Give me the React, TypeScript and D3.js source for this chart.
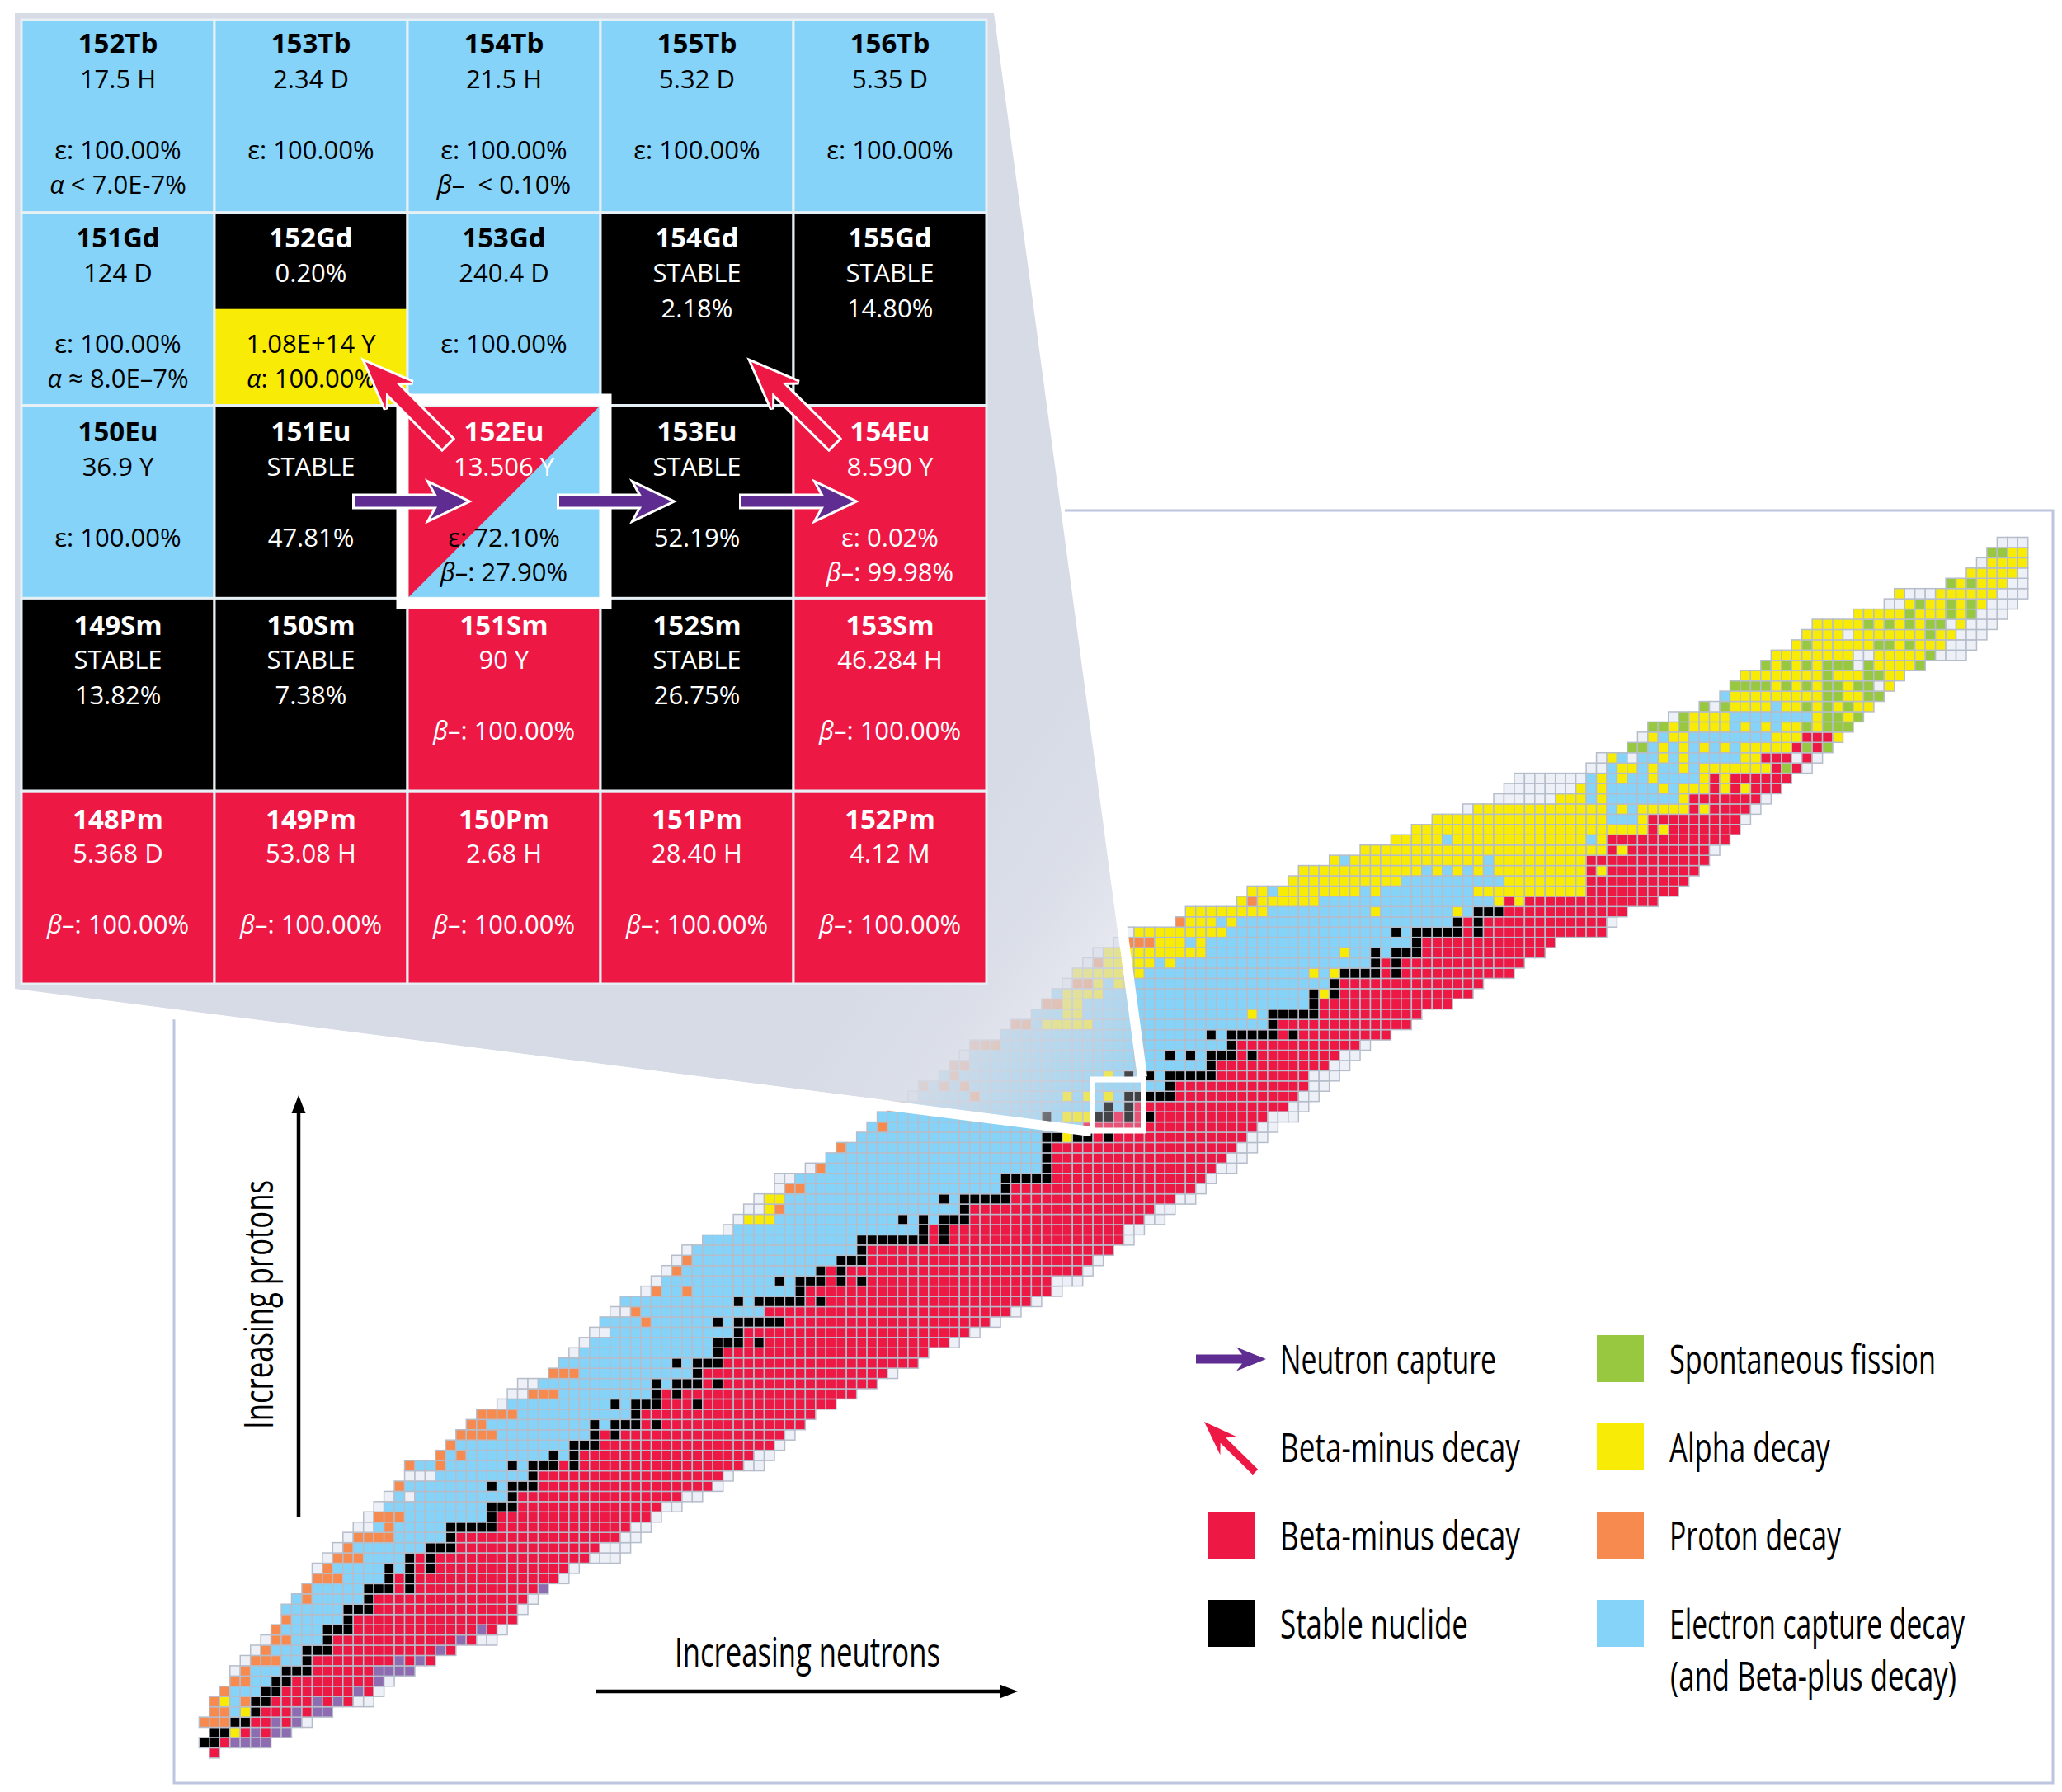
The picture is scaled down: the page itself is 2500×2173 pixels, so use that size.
import React from "react";
import * as d3 from "d3";

// Decay-mode palette
const MODE_COLORS: Record<string, string> = {
  r: "#ee1845", // beta-minus
  k: "#000000", // stable
  b: "#85d3f8", // electron capture
  y: "#f8ec06", // alpha
  o: "#f68a4f", // proton
  g: "#97c840", // fission
  p: "#8d6cb1", // neutron emission
  e: "#edf0f6", // unknown
};

// One entry per proton count: "firstNeutronCount:runs"
const chartRows: string[] = [
  "1:r1",
  "0:k2 r1 p4",
  "1:k2 y1 r1 p1 r1 p2",
  "0:o3 k2 r2 p1 r1 p1 e1",
  "1:o2 b1 y1 k1 r3 p1 r1 p2",
  "1:o1 y1 b1 o1 k2 r4 p1 r1 p1 r1 e2",
  "2:o1 b3 k2 r7 p1 r1 e1",
  "3:o2 b2 k2 r8 p1 e1",
  "3:e1 o1 b3 k3 r6 p4",
  "4:e1 o3 b2 k1 r8 p1 r1 p1 r1",
  "5:e1 o1 b3 k3 r10 p1 r1",
  "6:e1 o2 b3 k1 r12 p1 r1 e2",
  "7:o1 b4 k3 r12 p1 r1 e1",
  "8:o1 b5 k1 r16",
  "8:b6 k3 r14 e1",
  "9:b1 o1 b5 k1 r15 e1",
  "10:o1 b5 k3 r1 k1 r12 p1",
  "11:o3 b4 k1 r1 k1 r14 e1",
  "11:e1 o1 b5 k1 b1 k1 r1 k1 r13 e1",
  "12:e1 o3 b4 k1 r1 k1 r15 e3",
  "13:e1 o1 b7 k3 r14 e3",
  "14:e1 o4 b5 k1 r16 e2",
  "15:e2 b1 o1 b5 k5 r13 e2",
  "16:e1 o3 b8 k1 r15 e1",
  "17:e1 b10 k3 r14 e2",
  "18:e1 b1 e1 b9 k1 r16 e2",
  "19:o1 b8 k1 b1 k3 r17 e1",
  "20:e3 b9 k1 r18 e1",
  "20:o1 b2 o1 b6 k1 b1 k3 r1 k1 r16 e2",
  "23:o1 b1 o1 b8 k1 b1 k1 r17 e2",
  "24:o1 b11 k3 r17 e1",
  "25:o4 b9 k1 r1 k1 r16 e1",
  "26:o2 b10 k1 b1 k3 r1 k1 r14",
  "27:o4 b11 k1 r17",
  "29:e1 b10 k1 b1 k3 r3 k1 r13",
  "30:e2 o3 b9 k1 r1 k1 r17",
  "31:e2 b11 k1 b1 k3 r1 k1 r15",
  "34:o3 b11 k1 r18 e1",
  "35:b11 k1 b1 k3 r19",
  "36:e1 b13 k1 r20",
  "37:e1 b12 k3 r1 k1 r18 e1",
  "38:e2 b12 k1 r22 e1",
  "39:b4 o1 b6 k1 b1 k5 r20 e1",
  "40:e2 o1 b12 r24 e1",
  "41:b11 k1 b1 k5 r1 k1 r20 e1",
  "43:e1 o1 b2 o1 b10 k1 r24 e1",
  "44:e1 b11 k1 b1 k3 r1 k1 r1 k1 r18 e3",
  "45:e1 o1 b13 k1 r1 k1 r23 e1",
  "46:e1 o1 b14 k3 r22 e1",
  "47:e1 b16 k1 r24",
  "49:b15 k7 r1 k1 r17 e1",
  "51:e1 b18 k1 r1 k1 r17 e2",
  "52:e1 y3 b12 k1 b1 k1 b1 k3 r17 e2",
  "53:e2 y1 o1 b17 k1 r18 e2",
  "54:e1 y2 b15 k1 b1 k5 r16 e2",
  "56:e1 o2 b19 k1 r18 e1",
  "56:e2 b20 k5 r15 e1",
  "59:e1 o1 b21 k1 r16 e2",
  "61:b21 k1 r17 e2",
  "62:o1 b19 k1 r18 e2",
  "64:b18 k2 y1 k2 r1 k1 r13 e2",
  "65:b1 o1 b19 r17 e2",
  "66:b16 k1 b1 y3 k2 r1 k1 r1 k1 r11 e3",
  "67:o2 b19 k1 b1 k1 r15 e2",
  "69:e1 b5 o1 b8 y1 b1 y1 b1 y1 b1 k5 r12 e2",
  "70:o1 b1 o1 b1 o1 b19 k1 r13 e2",
  "72:b1 o1 b14 y1 b1 k1 b1 k1 b1 k5 r9 e3",
  "73:o2 b23 k1 r11 e2",
  "74:e1 b19 k1 b1 k1 b1 k3 r1 k1 r8 e2",
  "75:o3 b22 k1 r12 e1",
  "78:b20 k1 b1 k5 r1 k1 r9",
  "79:o2 b1 y5 b17 k1 r13",
  "81:b3 y2 b16 y1 b1 k5 r10",
  "82:o2 y2 b22 k1 r13",
  "83:b1 y4 b20 k1 y1 k1 r13",
  "84:e1 o2 y1 b1 y2 b19 k1 r14",
  "85:y7 b16 y1 b1 y1 k4 r1 k1 r11",
  "86:e1 o1 y5 b1 y1 b19 k1 r1 k1 r12",
  "87:e1 y10 b13 y1 b2 k1 b1 k3 r12",
  "89:e1 o3 y3 b1 y1 b20 k1 r13",
  "90:e1 y9 b16 k1 b1 k5 r1 k1 r12",
  "95:o1 y3 b1 y1 b21 k1 r1 k1 r12 e1",
  "96:y8 b10 y1 b7 y1 b1 k3 r12",
  "101:y1 o1 y6 b17 y1 r1 y1 r13",
  "102:y2 b1 y8 b1 y1 b9 y11 r9",
  "106:y11 b10 y8 r10",
  "107:y12 b1 y1 b1 y1 b1 y1 b1 y9 r1 y1 r9",
  "110:y1 b1 y13 b1 y9 r12",
  "113:y24 r1 y1 r8 e1",
  "116:y5 b1 y13 b1 y1 r12",
  "118:y23 r1 y1 r7",
  "120:y17 b3 y1 r9 e1",
  "123:e1 y13 b1 y1 b1 y5 r1 y1 r4 e1",
  "126:e6 y3 b1 y1 b7 y1 r7 e1",
  "127:e7 y1 b1 y1 b5 y1 b1 y3 r1 y1 r1 y1 r3",
  "128:e7 b1 y1 b1 y1 b2 y1 b4 y1 r1 y1 r6",
  "135:e2 b1 y2 b1 y1 b2 y1 b1 y7 r1 g1 r1 e1",
  "136:e1 y1 b1 e1 b2 y1 b1 y1 b5 y2 r3 e1 r1 e1",
  "139:g2 b1 y1 b1 y1 b1 y1 b1 y1 b1 y5 r1 g1 r1 g1",
  "140:e1 y1 b1 y2 b8 y3 r3 y1",
  "141:g2 y1 g1 y4 b1 y1 b1 y1 b1 y2 g1 y1 g3",
  "143:e1 g1 y4 b8 y1 g2 y1 g1",
  "146:g1 e1 g1 y4 b1 y2 g1 y1 g1 y1 g1 y2",
  "148:b1 y9 g2 y2 g2",
  "149:g4 y1 g1 y1 g1 y1 g2 y1 g2 e1 y1",
  "150:y8 g1 y3 g2 y2",
  "152:g1 y1 g1 y1 g1 y1 g3 e1 g1 y4 g1",
  "153:y8 e2 y5 g1 e3",
  "155:y1 g1 y6 g2 y1 g1 y3 e3",
  "156:y4 e1 y7 g1 y2 e3",
  "157:y5 g1 y1 g1 y1 g1 y1 g2 e1 y1 e3",
  "161:y5 g1 y3 g1 y1 g1 e3",
  "164:e2 y1 g1 y2 g1 y1 g1 y1 e3",
  "165:y1 e3 y6 e3",
  "170:g1 y1 g1 y3 e2",
  "172:y5 e1",
  "173:e1 y4",
  "174:g2 y2",
  "175:e3",
];

// Inset table: rows top to bottom
const tileNames = [
  ["152Tb", "153Tb", "154Tb", "155Tb", "156Tb"],
  ["151Gd", "152Gd", "153Gd", "154Gd", "155Gd"],
  ["150Eu", "151Eu", "152Eu", "153Eu", "154Eu"],
  ["149Sm", "150Sm", "151Sm", "152Sm", "153Sm"],
  ["148Pm", "149Pm", "150Pm", "151Pm", "152Pm"],
];
const tileFills = ["bbbbb", "bkbkk", "bkrkr", "kkrkr", "rrrrr"];
const tileLines: string[][][] = [
  [
    ["17.5 H", "", "ε: 100.00%", "α < 7.0E-7%"],
    ["2.34 D", "", "ε: 100.00%", ""],
    ["21.5 H", "", "ε: 100.00%", "β–\u00a0\u00a0< 0.10%"],
    ["5.32 D", "", "ε: 100.00%", ""],
    ["5.35 D", "", "ε: 100.00%", ""],
  ],
  [
    ["124 D", "", "ε: 100.00%", "α ≈ 8.0E–7%"],
    ["0.20%", "", "1.08E+14 Y", "α: 100.00%"],
    ["240.4 D", "", "ε: 100.00%", ""],
    ["STABLE", "2.18%", "", ""],
    ["STABLE", "14.80%", "", ""],
  ],
  [
    ["36.9 Y", "", "ε: 100.00%", ""],
    ["STABLE", "", "47.81%", ""],
    ["13.506 Y", "", "ε: 72.10%", "β–: 27.90%"],
    ["STABLE", "", "52.19%", ""],
    ["8.590 Y", "", "ε: 0.02%", "β–: 99.98%"],
  ],
  [
    ["STABLE", "13.82%", "", ""],
    ["STABLE", "7.38%", "", ""],
    ["90 Y", "", "β–: 100.00%", ""],
    ["STABLE", "26.75%", "", ""],
    ["46.284 H", "", "β–: 100.00%", ""],
  ],
  [
    ["5.368 D", "", "β–: 100.00%", ""],
    ["53.08 H", "", "β–: 100.00%", ""],
    ["2.68 H", "", "β–: 100.00%", ""],
    ["28.40 H", "", "β–: 100.00%", ""],
    ["4.12 M", "", "β–: 100.00%", ""],
  ],
];

const legendLeft = [
  { label: "Beta-minus decay", mode: "r", slot: 2, width: 291 },
  { label: "Stable nuclide", mode: "k", slot: 3, width: 228 },
];
const legendRight = [
  { label: "Spontaneous fission", mode: "g", slot: 0, width: 323 },
  { label: "Alpha decay", mode: "y", slot: 1, width: 195 },
  { label: "Proton decay", mode: "o", slot: 2, width: 208 },
  { label: "Electron capture decay", mode: "b", slot: 3, width: 358 },
];

const FONT = "'Open Sans', 'Noto Sans', sans-serif";
const PURPLE = "#5f2d91";
const RED = MODE_COLORS.r;

// Scales
const nScale = d3.scaleLinear().domain([0, 178]).range([241.4, 241.4 + 178 * 12.457]);
const zScale = d3.scaleLinear().domain([0, 118]).range([2119.4, 2119.4 - 118 * 12.44]);
const tileX = d3.scaleBand<number>().domain(d3.range(5)).range([26, 1196]);
const tileY = d3.scaleBand<number>().domain(d3.range(5)).range([24, 1193]);
const legendY = d3.scalePoint<number>().domain([0, 1, 2, 3]).range([1666, 1987]);

type Cell = { n: number; z: number; mode: string };
const cells: Cell[] = chartRows.flatMap((row, z) => {
  const [start, runs] = row.split(":");
  let n = +start;
  const out: Cell[] = [];
  runs.split(" ").forEach((run) => {
    const mode = run[0];
    const len = +run.slice(1);
    for (let i = 0; i < len; i++) out.push({ n: n++, z, mode });
  });
  return out;
});

// Block arrow outline along (x1,y1) -> (x2,y2)
function arrowPath(x1: number, y1: number, x2: number, y2: number, shaft: number, headLen: number, headW: number, notch = 0) {
  const len = Math.hypot(x2 - x1, y2 - y1);
  const ux = (x2 - x1) / len;
  const uy = (y2 - y1) / len;
  const pt = (a: number, b: number): [number, number] => [x1 + ux * a - uy * b, y1 + uy * a + ux * b];
  const neck = len - headLen;
  const pts = [
    pt(0, -shaft / 2),
    pt(neck + notch, -shaft / 2),
    pt(neck, -headW / 2),
    pt(len, 0),
    pt(neck, headW / 2),
    pt(neck + notch, shaft / 2),
    pt(0, shaft / 2),
  ];
  return d3.line()(pts)! + "Z";
}

// Horizontal squeeze that makes a label fill a given width (the reference face is condensed)
const LABEL_SIZE = 50;
const measureCtx = typeof document !== "undefined" ? document.createElement("canvas").getContext("2d") : null;
function squeeze(label: string, width: number) {
  if (!measureCtx) return 0.68;
  measureCtx.font = `${LABEL_SIZE}px 'Open Sans'`;
  return width / measureCtx.measureText(label).width;
}

function CondensedText({ label, x, y, width, rotate = 0 }: { label: string; x: number; y: number; width: number; rotate?: number }) {
  return (
    <text
      transform={`translate(${x},${y}) rotate(${rotate}) scale(${squeeze(label, width)},1)`}
      fontFamily={FONT}
      fontSize={LABEL_SIZE}
      fill="#000"
    >
      {label}
    </text>
  );
}

function TileLine({ text, x, y, fill }: { text: string; x: number; y: number; fill: string }) {
  const first = text[0];
  const italic = first === "α" || first === "β";
  return (
    <text x={x} y={y} textAnchor="middle" fontFamily={FONT} fontSize={31} fill={fill}>
      {italic ? <tspan fontStyle="italic">{first}</tspan> : null}
      {italic ? text.slice(1) : text}
    </text>
  );
}

function App() {
  const w = nScale(1) - nScale(0);
  const h = zScale(0) - zScale(1);
  const lineOffsets = [83, 126, 169, 211];
  return (
    <svg
      width={2500}
      height={2173}
      viewBox="0 0 2500 2173"
      style={{ position: "absolute", left: 0, top: 0, display: "block", background: "#fff" }}
    >
      <defs>
        <linearGradient id="pane" gradientUnits="userSpaceOnUse" x1={1100} y1={1100} x2={1390} y2={1300}>
          <stop offset={0} stopColor="#d7dbe6" stopOpacity={1} />
          <stop offset={0.4} stopColor="#d7dbe6" stopOpacity={0.88} />
          <stop offset={0.8} stopColor="#d7dbe6" stopOpacity={0.52} />
          <stop offset={0.93} stopColor="#d7dbe6" stopOpacity={0.33} />
          <stop offset={1} stopColor="#d7dbe6" stopOpacity={0.3} />
        </linearGradient>
      </defs>

      {/* chart frame */}
      <path d="M1291,619H2489V2162H211V1224" fill="none" stroke="#bcc6de" strokeWidth={3} />

      {/* nuclide cells */}
      <g stroke="#b6bdca" strokeWidth={1.5}>
        {cells.map((c) => (
          <rect
            key={`${c.z}-${c.n}`}
            x={nScale(c.n)}
            y={zScale(c.z)}
            width={w}
            height={h}
            fill={MODE_COLORS[c.mode]}
          />
        ))}
      </g>

      {/* magnifier pane */}
      <polygon points="18,16 1205,16 1379,1306 1386,1306 1386,1371 1323,1371 1323,1366 18,1199" fill="url(#pane)" />
      <line x1={1344} y1={1000} x2={1385} y2={1306} stroke="#fff" strokeWidth={12} />
      <line x1={18} y1={1205.5} x2={1323} y2={1372} stroke="#fff" strokeWidth={12} />
      <rect x={1324.5} y={1309} width={62} height={62} fill="none" stroke="#fff" strokeWidth={7} />

      {/* inset tiles */}
      {tileNames.map((row, r) =>
        row.map((name, c) => {
          const x = tileX(c)!;
          const y = tileY(r)!;
          const bw = tileX.bandwidth();
          const bh = tileY.bandwidth();
          const cx = x + bw / 2;
          const textTop = y + r;
          const mode = tileFills[r][c];
          const base = mode === "b" ? "#000" : "#fff";
          const isSplit = name === "152Eu";
          const isGd = name === "152Gd";
          return (
            <g key={name}>
              <rect x={x} y={y} width={bw} height={bh} fill={MODE_COLORS[mode]} />
              {isSplit ? (
                <polygon
                  points={`${x},${y + bh} ${x + bw},${y} ${x + bw},${y + bh}`}
                  fill={MODE_COLORS.b}
                />
              ) : null}
              {isGd ? <rect x={x} y={y + bh / 2} width={bw} height={bh / 2} fill={MODE_COLORS.y} /> : null}
              <rect x={x} y={y} width={bw} height={bh} fill="none" stroke="#e6f0f5" strokeWidth={3} />
              <text
                x={cx}
                y={textTop + (r > 0 ? 41.5 : 40)}
                textAnchor="middle"
                fontFamily={FONT}
                fontWeight={700}
                fontSize={33}
                fill={base}
              >
                {name}
              </text>
              {tileLines[r][c].map((line, i) =>
                line ? (
                  <TileLine
                    key={i}
                    text={line}
                    x={cx}
                    y={textTop + lineOffsets[i]}
                    fill={(isSplit && i > 0) || (isGd && i > 0) ? "#000" : base}
                  />
                ) : null,
              )}
            </g>
          );
        }),
      )}
      <rect x={487.5} y={484.5} width={247} height={247} fill="none" stroke="#fff" strokeWidth={14} />

      {/* inset arrows */}
      <g stroke="#fff" strokeWidth={6} strokeLinejoin="miter" style={{ paintOrder: "stroke" }}>
        <path d={arrowPath(430, 608, 566, 608, 13, 44, 42, 8)} fill={PURPLE} />
        <path d={arrowPath(678, 608, 814, 608, 13, 44, 42, 8)} fill={PURPLE} />
        <path d={arrowPath(899, 608, 1035, 608, 13, 44, 42, 8)} fill={PURPLE} />
        <path d={arrowPath(542, 538, 443, 439, 17, 58, 46, 14)} fill={RED} />
        <path d={arrowPath(1011, 538, 911, 439, 17, 58, 46, 14)} fill={RED} />
      </g>

      {/* axes annotations */}
      <line x1={362} y1={1839} x2={362} y2={1345} stroke="#000" strokeWidth={4.5} />
      <path d={arrowPath(362, 1350, 362, 1328, 1, 22, 17)} fill="#000" />
      <line x1={722} y1={2051} x2={1215} y2={2051} stroke="#000" strokeWidth={4.5} />
      <path d={arrowPath(1212, 2051, 1234, 2051, 1, 22, 17)} fill="#000" />
      <CondensedText label="Increasing protons" x={331} y={1733} width={302} rotate={-90} />
      <CondensedText label="Increasing neutrons" x={818} y={2021} width={322} />

      {/* legend */}
      <path d={arrowPath(1450, 1648, 1535, 1648, 11, 36, 29, 7)} fill={PURPLE} />
      <path d={arrowPath(1522, 1785, 1460, 1724, 9, 42, 30, 10)} fill={RED} />
      <CondensedText label="Neutron capture" x={1552} y={legendY(0)!} width={262} />
      <CondensedText label="Beta-minus decay" x={1552} y={legendY(1)!} width={291} />
      {legendLeft.map((d) => (
        <g key={d.mode}>
          <rect x={1464} y={legendY(d.slot)! - 47} width={57} height={57} fill={MODE_COLORS[d.mode]} />
          <CondensedText label={d.label} x={1552} y={legendY(d.slot)!} width={d.width} />
        </g>
      ))}
      {legendRight.map((d) => (
        <g key={d.mode}>
          <rect x={1936} y={legendY(d.slot)! - 47} width={57} height={57} fill={MODE_COLORS[d.mode]} />
          <CondensedText label={d.label} x={2024} y={legendY(d.slot)!} width={d.width} />
        </g>
      ))}
      <CondensedText label="(and Beta-plus decay)" x={2025} y={2050} width={347} />
    </svg>
  );
}

export default App;
